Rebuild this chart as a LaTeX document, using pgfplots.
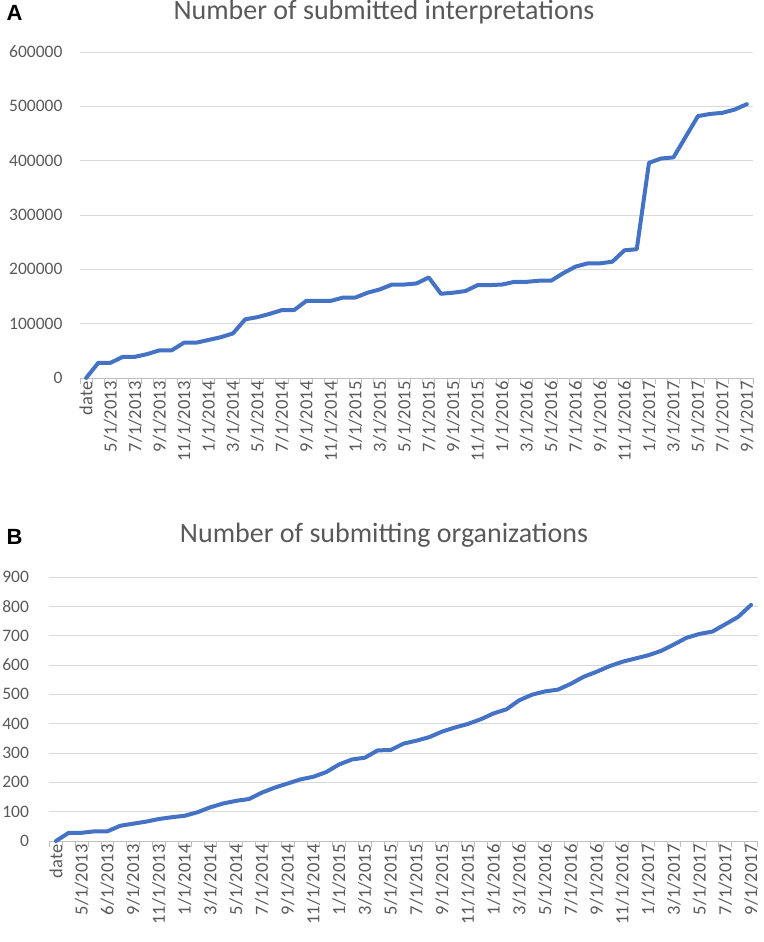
\documentclass[border=0pt]{standalone}
\usepackage{pgfplots}
\pgfplotsset{compat=1.18}
\usepackage{fontspec}
\setmainfont{Carlito}
\newfontfamily\panelfont{Liberation Sans}
\definecolor{lineblue}{HTML}{4472C4}
\definecolor{gridgray}{HTML}{D9D9D9}
\definecolor{axisgray}{HTML}{BFBFBF}
\definecolor{textgray}{HTML}{595959}

\pgfplotstableread{
i v
0 0
1 28000
2 28000
3 39000
4 39000
5 44000
6 51000
7 51000
8 65000
9 65000
10 70000
11 75000
12 82000
13 108000
14 112000
15 118000
16 125000
17 125000
18 142000
19 142000
20 142000
21 148000
22 148000
23 157000
24 163000
25 172000
26 172000
27 174000
28 185000
29 155000
30 157000
31 160000
32 171000
33 171000
34 172000
35 177000
36 177000
37 179000
38 179000
39 193000
40 205000
41 211000
42 211000
43 214000
44 235000
45 237000
46 396000
47 404000
48 406000
49 444000
50 482000
51 486000
52 488000
53 494000
54 504000
}\interp

\pgfplotstableread{
i v
0 0
1 28
2 28
3 33
4 33
5 52
6 59
7 66
8 75
9 81
10 86
11 98
12 115
13 128
14 137
15 143
16 165
17 182
18 196
19 210
20 219
21 235
22 261
23 278
24 284
25 309
26 310
27 332
28 342
29 354
30 373
31 387
32 399
33 415
34 435
35 449
36 480
37 499
38 510
39 516
40 536
41 560
42 577
43 596
44 611
45 622
46 633
47 648
48 670
49 693
50 706
51 714
52 739
53 764
54 805
}\orgs

\pgfplotsset{
 excel/.style={
  scale only axis,
  xmin=-0.5, xmax=54.5,
  ymin=0,
  axis lines*=left,
  axis line style={-},
  y axis line style={draw=none},
  x axis line style={axisgray, line width=0.9pt},
  ymajorgrids,
  grid style={gridgray, line width=0.9pt},
  xtick={0,2,...,54},
  minor xtick={-0.5,0.5,...,54.5},
  major tick length=0pt,
  minor tick length=6pt,
  tick align=outside,
  minor tick style={axisgray, line width=0.9pt},
  xticklabel style={rotate=90, anchor=east, font=\fontsize{18.5}{18.5}\selectfont, text=textgray},
  yticklabel style={font=\fontsize{17.5}{17.5}\selectfont, text=textgray},
  yticklabel={\pgfmathprintnumber[fixed,precision=0,1000 sep={},assume math mode=true]{\tick}},
  scaled y ticks=false,
  clip=false,
 }
}

\begin{document}
\begin{tikzpicture}
\useasboundingbox (0pt,0pt) rectangle (763pt,942pt);
\begin{axis}[excel, at={(80pt,564pt)}, anchor=south west, width=673pt, height=326pt,
  ymax=600000, ytick={0,100000,200000,300000,400000,500000,600000},
  yticklabel style={xshift=-14pt},
  xticklabels={date,5/1/2013,7/1/2013,9/1/2013,11/1/2013,1/1/2014,3/1/2014,5/1/2014,7/1/2014,9/1/2014,11/1/2014,1/1/2015,3/1/2015,5/1/2015,7/1/2015,9/1/2015,11/1/2015,1/1/2016,3/1/2016,5/1/2016,7/1/2016,9/1/2016,11/1/2016,1/1/2017,3/1/2017,5/1/2017,7/1/2017,9/1/2017}]
\addplot[lineblue, line width=4pt, line join=round, line cap=round] table[x=i, y=v] {\interp};
\end{axis}
\node[anchor=base, font=\fontsize{28}{28}\selectfont, text=textgray] at (384pt,922pt) {Number of submitted interpretations};
\node[anchor=base west, font=\panelfont\bfseries\fontsize{22}{22}\selectfont] at (3pt,921pt) {A};

\begin{axis}[excel, at={(49.5pt,101pt)}, anchor=south west, width=708pt, height=264pt,
  ymax=900, ytick={0,100,200,300,400,500,600,700,800,900},
  yticklabel style={xshift=-17pt},
  xticklabels={date,5/1/2013,6/1/2013,9/1/2013,11/1/2013,1/1/2014,3/1/2014,5/1/2014,7/1/2014,9/1/2014,11/1/2014,1/1/2015,3/1/2015,5/1/2015,7/1/2015,9/1/2015,11/1/2015,1/1/2016,3/1/2016,5/1/2016,7/1/2016,9/1/2016,11/1/2016,1/1/2017,3/1/2017,5/1/2017,7/1/2017,9/1/2017}]
\addplot[lineblue, line width=4pt, line join=round, line cap=round] table[x=i, y=v] {\orgs};
\end{axis}
\node[anchor=base, font=\fontsize{28}{28}\selectfont, text=textgray] at (384pt,399pt) {Number of submitting organizations};
\node[anchor=base west, font=\panelfont\bfseries\fontsize{22}{22}\selectfont] at (3pt,397pt) {B};
\end{tikzpicture}
\end{document}
